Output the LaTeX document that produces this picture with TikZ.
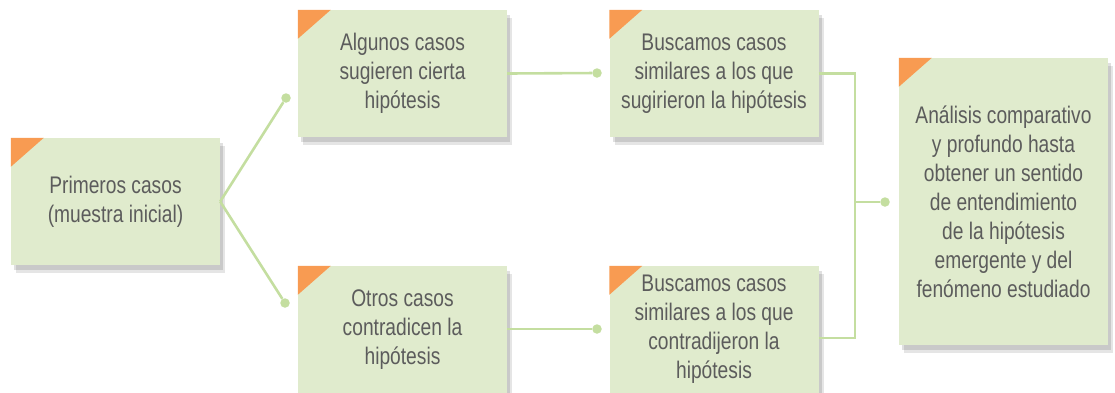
\documentclass[tikz,border=0pt]{standalone}
\usepackage{fontspec}
\setmainfont[FakeStretch=0.8]{Liberation Sans}
\usetikzlibrary{shadows}
\definecolor{boxG}{RGB}{224,235,205}
\definecolor{cornO}{RGB}{248,155,82}
\definecolor{lineG}{RGB}{196,222,160}
\definecolor{txtG}{RGB}{92,92,92}

\begin{document}
\begin{tikzpicture}[x=1pt,y=-1pt,
  card/.style={rectangle,fill=boxG,minimum width=209pt,minimum height=127pt,inner sep=0pt,
    align=center,text=txtG,font=\fontsize{24}{29}\selectfont,
    general shadow={fill=black,opacity=0.10,shadow xshift=5pt,shadow yshift=-8pt},
    general shadow={fill=black,opacity=0.12,shadow xshift=3pt,shadow yshift=-5pt}},
  link/.style={lineG,line width=2.6pt},
  tip/.style={circle,fill=lineG,inner sep=0pt,minimum size=9.5pt}]
\useasboundingbox (0,0) rectangle (1115,392);
% cards
\node[card] (prim) at (115.5,201.5) {Primeros casos\\(muestra inicial)};
\node[card] (alg) at (402.5,73.5) {Algunos casos\\sugieren cierta\\hipótesis};
\node[card] (otros) at (402.5,329.5) {Otros casos\\contradicen la\\hipótesis};
\node[card] (simS) at (714,73.5) {Buscamos casos\\similares a los que\\sugirieron la hipótesis};
\node[card] (simC) at (714,329.5) {Buscamos casos\\similares a los que\\contradijeron la\\hipótesis};
\node[card,minimum height=287pt] (anal) at (1003.5,201.5) {Análisis comparativo\\y profundo hasta\\obtener un sentido\\de entendimiento\\de la hipótesis\\emergente y del\\fenómeno estudiado};
\foreach \c in {prim,alg,otros,simS,simC,anal}
  \fill[cornO] (\c.north west) -- ++(33,0) -- ++(-33,29) -- cycle;
% connectors
\node[tip] (dA) at (286,98) {};
\node[tip] (dB) at (285,303) {};
\node[tip] (dC) at (597,73) {};
\node[tip] (dD) at (597,329) {};
\node[tip] (dE) at (885,202) {};
\coordinate (jT) at (855,73.5);
\coordinate (jM) at (855,202);
\coordinate (jB) at (855,338);
\draw[link] (prim.east) -- (dA);
\draw[link] (prim.east) -- (dB);
\draw[link] (alg.east) -- (dC);
\draw[link] (otros.east |- dD) -- (dD);
\draw[link] (simS.east) -- (jT) -- (jB) -- (jB -| simC.east);
\draw[link] (jM) -- (dE);
\end{tikzpicture}
\end{document}
